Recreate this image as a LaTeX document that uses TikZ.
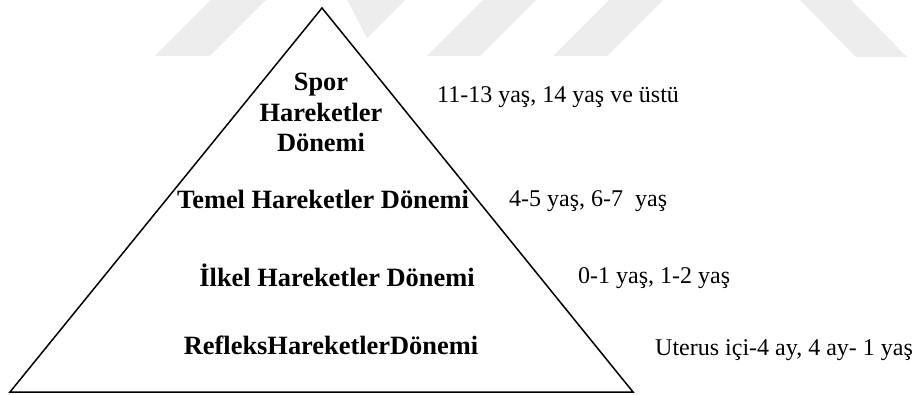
\documentclass[tikz,border=0pt]{standalone}
\usepackage{fontspec}
\setmainfont{Liberation Serif}
\begin{document}
\begin{tikzpicture}[x=1pt,y=-1pt,
  lvl/.style={font=\fontsize{26.4}{30}\selectfont\bfseries, anchor=base, inner sep=0pt},
  age/.style={font=\fontsize{24}{28}\selectfont, anchor=base west, inner sep=0pt},
  wmark/.style={fill=wmgray, draw=none},
  tri/.style={draw=black, line width=1.5pt, line join=miter}]
\definecolor{wmgray}{gray}{0.93}
\useasboundingbox (0,0) rectangle (912,395);
% faint watermark stripes
\fill[wmark] (155,56) -- (210,56) -- (266,0) -- (211,0) -- cycle;
\fill[wmark] (347,0) -- (405,0) -- (367,38) -- cycle;
\fill[wmark] (427,56) -- (480,56) -- (536,0) -- (483,0) -- cycle;
\fill[wmark] (553,56) -- (607,56) -- (663,0) -- (609,0) -- cycle;
\fill[wmark] (800,0) -- (851,0) -- (907,57) -- (856,57) -- cycle;
% pyramid
\coordinate (apex) at (322,8);
\coordinate (bl) at (10,392);
\coordinate (br) at (633,392);
\draw[tri] (bl) -- (apex) -- (br) -- cycle;
% level labels
\node[lvl] (spor1) at (321,91) {Spor};
\node[lvl] (spor2) at (321,121.5) {Hareketler};
\node[lvl] (spor3) at (321,152) {Dönemi};
\node[lvl] (temel) at (323,209) {Temel Hareketler Dönemi};
\node[lvl] (ilkel) at (337,286) {İlkel Hareketler Dönemi};
\node[lvl] (refleks) at (331,354) {RefleksHareketlerDönemi};
% age labels
\node[age] (a1) at (437,103) {11-13 yaş, 14 yaş ve üstü};
\node[age] (a2) at (509,207) {4-5 yaş, 6-7\ \ yaş};
\node[age] (a3) at (578,283) {0-1 yaş, 1-2 yaş};
\node[age] (a4) at (655,355) {Uterus içi-4 ay, 4 ay- 1 yaş};
\end{tikzpicture}
\end{document}
